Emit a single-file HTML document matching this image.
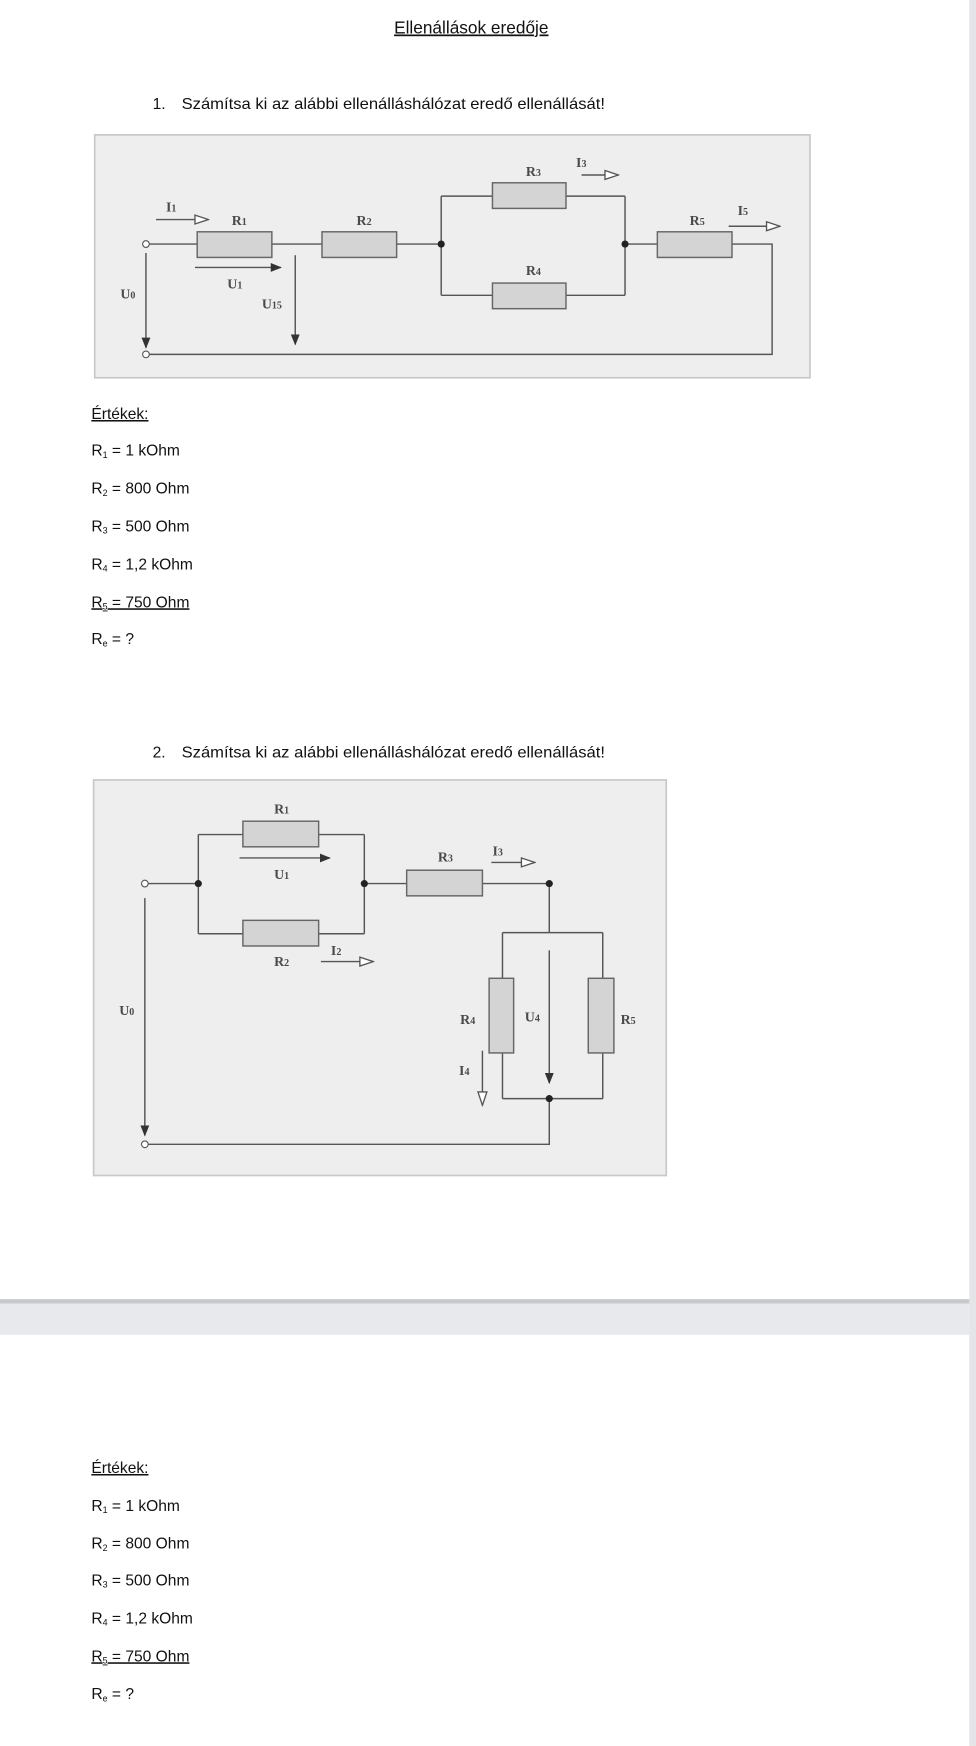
<!DOCTYPE html>
<html><head><meta charset="utf-8"><style>
html,body{margin:0;padding:0;background:#fff;}
svg{display:block;}
.t{font-family:"Liberation Sans",sans-serif;fill:#111;}
.l{font-family:"Liberation Serif",serif;font-weight:bold;fill:#4a4a4a;font-size:12.5px;}
.w{stroke:#555;stroke-width:1.3;fill:none;}
.r{fill:#d4d4d4;stroke:#666;stroke-width:1.3;}
</style></head><body>
<svg width="976" height="1746" viewBox="0 0 876 1567" xmlns="http://www.w3.org/2000/svg">
<defs>
<marker id="f" markerWidth="10" markerHeight="8" refX="9" refY="4" orient="auto" markerUnits="userSpaceOnUse"><path d="M0,0 L10,4 L0,8 z" fill="#333"/></marker>
<marker id="h" markerWidth="14" markerHeight="10" refX="13" refY="5" orient="auto" markerUnits="userSpaceOnUse"><path d="M1,1 L13,5 L1,9 z" fill="#fff" stroke="#555" stroke-width="1.2"/></marker>
</defs>
<rect x="0" y="0" width="870" height="1567" fill="#fff"/>
<rect x="870" y="0" width="6" height="1567" fill="#e4e5e8"/>
<rect x="0" y="1166" width="870" height="4" fill="#c8c9cc"/>
<rect x="0" y="1170" width="870" height="28" fill="#e8e9ec"/>

<text class="t" x="423" y="30" font-size="15.5" text-anchor="middle" text-decoration="underline">Ellenállások eredője</text>
<text class="t" x="137" y="98" font-size="14">1.</text>
<text class="t" x="163" y="98" font-size="14" textLength="380" lengthAdjust="spacingAndGlyphs">Számítsa ki az alábbi ellenálláshálózat eredő ellenállását!</text>

<!-- Diagram 1 -->
<rect x="85" y="121" width="642" height="218" fill="#eeeeee" stroke="#c8c8c8" stroke-width="1.5"/>
<path class="w" d="M134,219 H177 M244,219 H289 M356,219 H396 M396,176 V265 M396,176 H442 M508,176 H561 M396,265 H442 M508,265 H561 M561,176 V265 M561,219 H590 M657,219 H693 V318 H134"/>
<rect class="r" x="177" y="208" width="67" height="23"/>
<rect class="r" x="289" y="208" width="67" height="23"/>
<rect class="r" x="442" y="164" width="66" height="23"/>
<rect class="r" x="442" y="254" width="66" height="23"/>
<rect class="r" x="590" y="208" width="67" height="23"/>
<circle cx="131" cy="219" r="3" fill="#fff" stroke="#555"/>
<circle cx="131" cy="318" r="3" fill="#fff" stroke="#555"/>
<circle cx="396" cy="219" r="3.2" fill="#222"/>
<circle cx="561" cy="219" r="3.2" fill="#222"/>
<line class="w" x1="140" y1="197" x2="187" y2="197" marker-end="url(#h)"/>
<line class="w" x1="522" y1="157" x2="555" y2="157" marker-end="url(#h)"/>
<line class="w" x1="654" y1="203" x2="700" y2="203" marker-end="url(#h)"/>
<line class="w" x1="175" y1="240" x2="252" y2="240" marker-end="url(#f)"/>
<line class="w" x1="131" y1="227" x2="131" y2="312" marker-end="url(#f)"/>
<line class="w" x1="265" y1="229" x2="265" y2="309" marker-end="url(#f)"/>
<text class="l" x="149" y="190">I<tspan font-size="9">1</tspan></text>
<text class="l" x="208" y="202">R<tspan font-size="9">1</tspan></text>
<text class="l" x="320" y="202">R<tspan font-size="9">2</tspan></text>
<text class="l" x="472" y="158">R<tspan font-size="9">3</tspan></text>
<text class="l" x="517" y="150">I<tspan font-size="9">3</tspan></text>
<text class="l" x="472" y="247">R<tspan font-size="9">4</tspan></text>
<text class="l" x="619" y="202">R<tspan font-size="9">5</tspan></text>
<text class="l" x="662" y="193">I<tspan font-size="9">5</tspan></text>
<text class="l" x="204" y="259">U<tspan font-size="9">1</tspan></text>
<text class="l" x="108" y="268">U<tspan font-size="9">0</tspan></text>
<text class="l" x="235" y="277">U<tspan font-size="9">15</tspan></text>

<!-- Values 1 -->
<g class="t" font-size="14">
<text x="82" y="376" text-decoration="underline">Értékek:</text>
<text x="82" y="409">R<tspan font-size="8" dy="2">1</tspan><tspan dy="-2"> = 1 kOhm</tspan></text>
<text x="82" y="443">R<tspan font-size="8" dy="2">2</tspan><tspan dy="-2"> = 800 Ohm</tspan></text>
<text x="82" y="477">R<tspan font-size="8" dy="2">3</tspan><tspan dy="-2"> = 500 Ohm</tspan></text>
<text x="82" y="511">R<tspan font-size="8" dy="2">4</tspan><tspan dy="-2"> = 1,2 kOhm</tspan></text>
<text x="82" y="545" text-decoration="underline">R<tspan font-size="8" dy="2">5</tspan><tspan dy="-2"> = 750 Ohm</tspan></text>
<text x="82" y="578">R<tspan font-size="8" dy="2">e</tspan><tspan dy="-2"> = ?</tspan></text>
</g>

<text class="t" x="137" y="680" font-size="14">2.</text>
<text class="t" x="163" y="680" font-size="14" textLength="380" lengthAdjust="spacingAndGlyphs">Számítsa ki az alábbi ellenálláshálózat eredő ellenállását!</text>

<!-- Diagram 2 -->
<rect x="84" y="700" width="514" height="355" fill="#eeeeee" stroke="#c8c8c8" stroke-width="1.5"/>
<path class="w" d="M133,793 H178 M178,749 V838 M178,749 H218 M286,749 H327 M178,838 H218 M286,838 H327 M327,749 V838 M327,793 H365 M433,793 H493 V837 M451,837 H541 M451,837 V878 M451,945 V986 M541,837 V878 M541,945 V986 M451,986 H541 M493,986 V1027 H133"/>
<rect class="r" x="218" y="737" width="68" height="23"/>
<rect class="r" x="218" y="826" width="68" height="23"/>
<rect class="r" x="365" y="781" width="68" height="23"/>
<rect class="r" x="439" y="878" width="22" height="67"/>
<rect class="r" x="528" y="878" width="23" height="67"/>
<circle cx="130" cy="793" r="3" fill="#fff" stroke="#555"/>
<circle cx="130" cy="1027" r="3" fill="#fff" stroke="#555"/>
<circle cx="178" cy="793" r="3.2" fill="#222"/>
<circle cx="327" cy="793" r="3.2" fill="#222"/>
<circle cx="493" cy="793" r="3.2" fill="#222"/>
<circle cx="493" cy="986" r="3.2" fill="#222"/>
<line class="w" x1="215" y1="770" x2="296" y2="770" marker-end="url(#f)"/>
<line class="w" x1="288" y1="863" x2="335" y2="863" marker-end="url(#h)"/>
<line class="w" x1="441" y1="774" x2="480" y2="774" marker-end="url(#h)"/>
<line class="w" x1="493" y1="853" x2="493" y2="972" marker-end="url(#f)"/>
<line class="w" x1="433" y1="943" x2="433" y2="992" marker-end="url(#h)"/>
<line class="w" x1="130" y1="806" x2="130" y2="1019" marker-end="url(#f)"/>
<text class="l" x="246" y="730">R<tspan font-size="9">1</tspan></text>
<text class="l" x="246" y="789">U<tspan font-size="9">1</tspan></text>
<text class="l" x="246" y="867">R<tspan font-size="9">2</tspan></text>
<text class="l" x="297" y="857">I<tspan font-size="9">2</tspan></text>
<text class="l" x="393" y="773">R<tspan font-size="9">3</tspan></text>
<text class="l" x="442" y="768">I<tspan font-size="9">3</tspan></text>
<text class="l" x="413" y="919">R<tspan font-size="9">4</tspan></text>
<text class="l" x="471" y="917">U<tspan font-size="9">4</tspan></text>
<text class="l" x="557" y="919">R<tspan font-size="9">5</tspan></text>
<text class="l" x="412" y="965">I<tspan font-size="9">4</tspan></text>
<text class="l" x="107" y="911">U<tspan font-size="9">0</tspan></text>

<!-- Values 2 -->
<g class="t" font-size="14">
<text x="82" y="1322" text-decoration="underline">Értékek:</text>
<text x="82" y="1356">R<tspan font-size="8" dy="2">1</tspan><tspan dy="-2"> = 1 kOhm</tspan></text>
<text x="82" y="1390">R<tspan font-size="8" dy="2">2</tspan><tspan dy="-2"> = 800 Ohm</tspan></text>
<text x="82" y="1423">R<tspan font-size="8" dy="2">3</tspan><tspan dy="-2"> = 500 Ohm</tspan></text>
<text x="82" y="1457">R<tspan font-size="8" dy="2">4</tspan><tspan dy="-2"> = 1,2 kOhm</tspan></text>
<text x="82" y="1491" text-decoration="underline">R<tspan font-size="8" dy="2">5</tspan><tspan dy="-2"> = 750 Ohm</tspan></text>
<text x="82" y="1525">R<tspan font-size="8" dy="2">e</tspan><tspan dy="-2"> = ?</tspan></text>
</g>
</svg>
</body></html>
